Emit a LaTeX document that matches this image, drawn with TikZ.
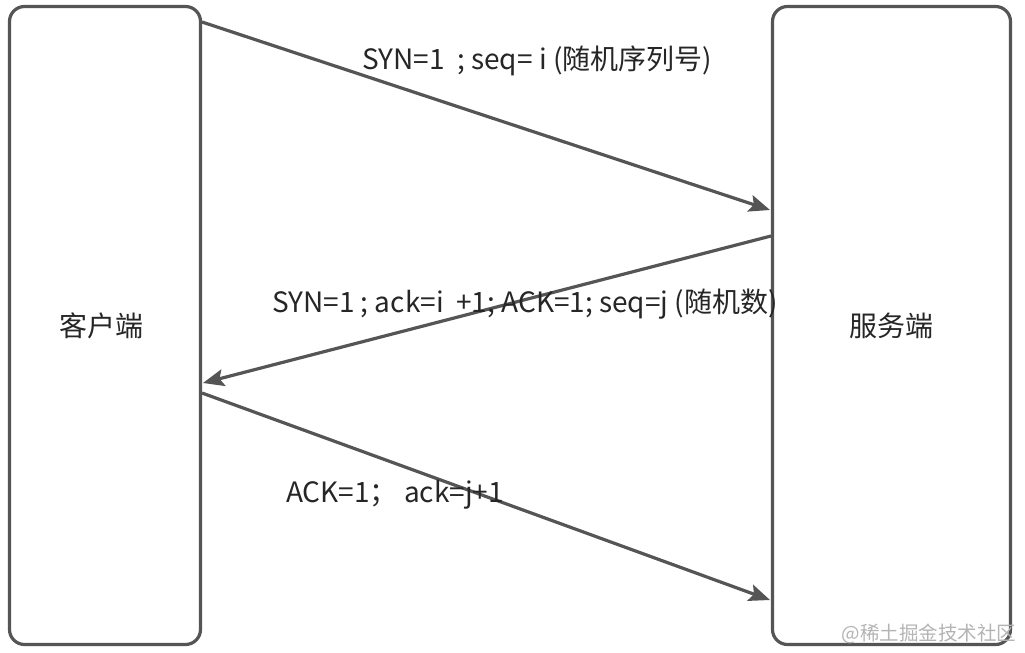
\documentclass[tikz,border=0pt]{standalone}
\usepackage{fontspec}
\setmainfont{Noto Sans CJK SC}
\usetikzlibrary{arrows.meta}
\definecolor{lineC}{HTML}{555555}
\definecolor{textC}{HTML}{262626}
\definecolor{wmC}{HTML}{B4B4B4}
\tikzset{
  endbox/.style={draw=lineC, line width=3.2pt, rounded corners=15pt, fill=white, inner sep=0pt},
  msg/.style={draw=lineC, line width=3.2pt, -{Stealth[length=21pt,width=17pt,inset=4pt]}},
  lbl/.style={text=textC, font=\fontsize{28}{32}\selectfont, inner sep=0pt, anchor=base west},
  boxlbl/.style={text=textC, font=\fontsize{28}{32}\selectfont, inner sep=0pt},
}
\begin{document}
\begin{tikzpicture}[x=1pt,y=-1pt]
\useasboundingbox[fill=white] (0,0) rectangle (1025,653);
\node[endbox, minimum width=191pt, minimum height=638pt] (client) at (105,325.5) {};
\node[endbox, minimum width=238pt, minimum height=638pt] (server) at (891.5,325.5) {};
\node[boxlbl] (clientlbl) at (101,326) {客户端};
\node[boxlbl] (serverlbl) at (891,326) {服务端};
\coordinate (c1) at (202,22);
\coordinate (s1) at (770,210);
\coordinate (s2) at (771,236);
\coordinate (c2) at (203,383);
\coordinate (c3) at (202,393);
\coordinate (s3) at (770,600);
\draw[msg] (c1) -- (s1);
\draw[msg] (s2) -- (c2);
\draw[msg] (c3) -- (s3);
\node[lbl] (l1) at (362,69) {SYN=1\ \ ; seq= i (随机序列号)};
\node[lbl] (l2) at (272,312) {SYN=1 ; ack=i\ \ +1; ACK=1; seq=j (随机数)};
\node[lbl] (l3) at (286,502) {ACK=1；\ ack=j+1};
\node[text=wmC, font=\fontsize{19.5}{22}\selectfont, inner sep=0pt] (wm) at (929,634) {@稀土掘金技术社区};
\end{tikzpicture}
\end{document}
